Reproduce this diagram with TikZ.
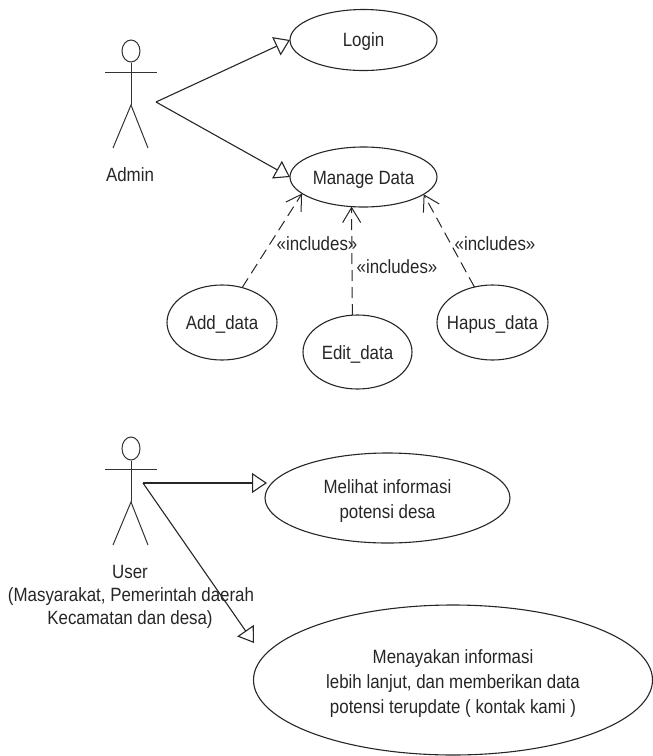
\documentclass[tikz,border=0pt]{standalone}
\usepackage{fontspec}
\setmainfont[FakeStretch=0.88]{Liberation Sans}
\usetikzlibrary{arrows.meta,shapes.geometric}
\newcommand{\uctext}[2]{\raisebox{-#1}[0pt][0pt]{\begin{tabular}{@{}c@{}}#2\end{tabular}}}
\tikzset{
  x=1pt,y=-1pt,
  usecase/.style={draw=black!85,line width=1.1pt,ellipse,inner ysep=0pt,inner xsep=-20pt,outer sep=0pt,align=center,text=black!85,font=\fontsize{19.2}{25}\selectfont},
  lbl/.style={text=black!85,align=center,inner sep=0pt,font=\fontsize{19.2}{25}\selectfont},
  actorhead/.style={draw=black!80,line width=1pt,ellipse,minimum width=18pt,inner sep=0pt},
  actorline/.style={draw=black!80,line width=1pt},
  assoc/.style={draw=black!85,line width=1.1pt,-{Triangle[open,length=15pt,width=20pt,line width=1.1pt,fill=white]}},
  incl/.style={draw=black!85,line width=1pt,dash pattern=on 11pt off 6pt,-{Straight Barb[length=15pt,width=18pt,line width=1pt]}}
}
\begin{document}
\begin{tikzpicture}
\useasboundingbox (0,0) rectangle (653,756);
% Admin actor
\node[actorhead,minimum height=22pt] (adminhead) at (131,51) {};
\coordinate (adminarmL) at (105,72.5);
\coordinate (adminarmR) at (157,72.5);
\coordinate (adminhip) at (131,105);
\coordinate (adminlegL) at (113,148);
\coordinate (adminlegR) at (148,148);
\draw[actorline] (adminhead.south) -- (adminhip);
\draw[actorline] (adminarmL) -- (adminarmR);
\draw[actorline] (adminlegL) -- (adminhip) -- (adminlegR);
\node[lbl] (adminlabel) at (130,175) {Admin};
\coordinate (adminport) at (156,102);
% Admin use cases
\node[usecase,minimum width=147pt,minimum height=61pt] (login) at (363.5,40) {\uctext{7pt}{Login}};
\node[usecase,minimum width=147pt,minimum height=60pt] (manage) at (363.5,177) {\uctext{8pt}{Manage Data}};
\node[usecase,minimum width=110pt,minimum height=75pt] (add) at (222,322.5) {\uctext{7pt}{Add\_data}};
\node[usecase,minimum width=109pt,minimum height=74pt] (edit) at (357.5,352) {\uctext{8pt}{Edit\_data}};
\node[usecase,minimum width=111pt,minimum height=75pt] (hapus) at (492.5,322.5) {\uctext{7pt}{Hapus\_data}};
\draw[assoc] (adminport) -- (login.west);
\draw[assoc] (adminport) -- (manage.west);
\draw[incl] (add.60) -- (manage.195.7);
\draw[incl] (edit.98.5) -- (manage.248.8);
\draw[incl] (hapus.117.6) -- (manage.344.5);
\node[lbl] (inc1) at (317,244) {«includes»};
\node[lbl] (inc2) at (397,267) {«includes»};
\node[lbl] (inc3) at (495,244) {«includes»};
% User actor
\node[actorhead,minimum height=23pt] (userhead) at (131,448.5) {};
\coordinate (userarmL) at (105,469);
\coordinate (userarmR) at (157,469);
\coordinate (userhip) at (131,502);
\coordinate (userlegL) at (113,545);
\coordinate (userlegR) at (148,545);
\draw[actorline] (userhead.south) -- (userhip);
\draw[actorline] (userarmL) -- (userarmR);
\draw[actorline] (userlegL) -- (userhip) -- (userlegR);
\node[lbl] (userlabel) at (130,572) {User};
\node[lbl] (userlabel2) at (131,597) {(Masyarakat, Pemerintah daerah};
\node[lbl] (userlabel3) at (130,620) {Kecamatan dan desa)};
\coordinate (userport) at (143,483);
% User use cases
\node[usecase,minimum width=245pt,minimum height=90pt] (lihat) at (387.5,498) {\uctext{8.5pt}{Melihat informasi\\potensi desa}};
\node[usecase,minimum width=399pt,minimum height=150pt] (tanya) at (453,680) {\uctext{9pt}{Menayakan informasi\\lebih lanjut, dan memberikan data\\potensi terupdate ( kontak kami )}};
\coordinate (lihatend) at (267,483);
\coordinate (tanyaend) at (254,643);
\draw[assoc] (userport) -- (lihatend);
\draw[assoc] (userport) -- (tanyaend);
\end{tikzpicture}
\end{document}
